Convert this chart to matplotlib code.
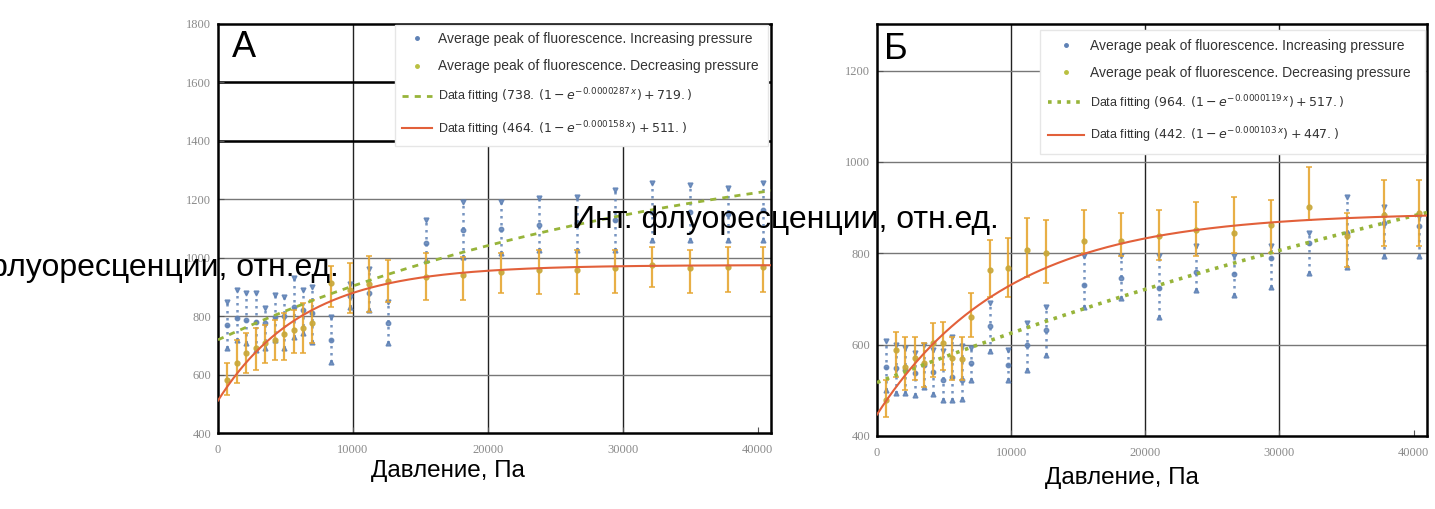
import numpy as np
import matplotlib
matplotlib.use("Agg")
import matplotlib.pyplot as plt
from matplotlib.lines import Line2D

# ---------------- data ----------------
pressure = [700, 1400, 2100, 2800, 3500, 4200, 4900, 5600, 6300, 7000, 8400, 9800,
            11200, 12600, 15400, 18200, 21000, 23800, 26600, 29400, 32200, 35000, 37800, 40400]

# Panel A (left)
a_inc_mean = [770, 793, 787, 781, 775, 798, 800, 833, 821, 810, 718, 870,
              880, 775, 1050, 1095, 1100, 1112, 1120, 1130, 1158, 1155, 1150, 1165]
a_inc_hi = [850, 890, 878, 878, 827, 872, 867, 930, 890, 901, 798, 910,
            960, 850, 1129, 1190, 1190, 1205, 1209, 1232, 1255, 1249, 1238, 1255]
a_inc_lo = [690, 718, 707, 684, 690, 718, 690, 730, 741, 713, 644, 830,
            820, 707, 992, 1004, 1016, 1026, 1026, 1026, 1061, 1061, 1061, 1061]
a_dec_mean = [580, 638, 673, 690, 707, 718, 740, 753, 758, 775, 912, 890,
              910, 920, 935, 941, 952, 958, 958, 964, 975, 964, 969, 969]
a_dec_hi = [640, 718, 741, 758, 770, 787, 810, 821, 844, 855, 970, 981,
            1005, 992, 1016, 1003, 1016, 1026, 1026, 1026, 1038, 1026, 1038, 1038]
a_dec_lo = [530, 570, 604, 616, 638, 650, 650, 673, 673, 707, 833, 810,
            815, 850, 855, 855, 879, 875, 875, 880, 901, 879, 884, 884]

# Panel Б (right)
b_inc_mean = [552, 548, 545, 538, 555, 540, 523, 530, 523, 559, 640, 555,
              599, 632, 731, 745, 725, 758, 755, 790, 822, 845, 866, 860]
b_inc_hi = [607, 600, 592, 581, 599, 588, 585, 617, 596, 592, 691, 588,
            647, 683, 793, 793, 793, 815, 795, 815, 845, 924, 902, 880]
b_inc_lo = [501, 495, 494, 490, 508, 493, 479, 479, 482, 523, 585, 523,
            545, 577, 683, 702, 661, 720, 709, 727, 757, 771, 793, 793]
b_dec_mean = [479, 588, 552, 570, 559, 603, 603, 570, 568, 661, 764, 767,
              807, 800, 826, 826, 837, 851, 845, 862, 902, 837, 884, 888]
b_dec_hi = [523, 628, 617, 617, 603, 647, 650, 617, 617, 713, 829, 833,
            877, 873, 895, 888, 895, 913, 924, 917, 990, 888, 961, 961]
b_dec_lo = [442, 530, 501, 523, 508, 530, 545, 523, 523, 617, 705, 705,
            749, 734, 801, 793, 785, 793, 801, 801, 873, 771, 815, 815]

# fit parameters  A*(1-exp(-k x)) + C  (as written in the legends)
a_fit_inc = (738.0, 0.0000287, 719.0)
a_fit_dec = (464.0, 0.000158, 511.0)
b_fit_inc = (964.0, 0.0000119, 517.0)
b_fit_dec = (442.0, 0.000103, 447.0)

a_fit_inc_label = r"Data fitting $(738.\,(1-e^{-0.0000287\,x})+719.)$"
a_fit_dec_label = r"Data fitting $(464.\,(1-e^{-0.000158\,x})+511.)$"
b_fit_inc_label = r"Data fitting $(964.\,(1-e^{-0.0000119\,x})+517.)$"
b_fit_dec_label = r"Data fitting $(442.\,(1-e^{-0.000103\,x})+447.)$"
inc_label = "Average peak of fluorescence. Increasing pressure"
dec_label = "Average peak of fluorescence. Decreasing pressure"

x_ticks = [0, 10000, 20000, 30000, 40000]
a_yticks = [400, 600, 800, 1000, 1200, 1400, 1600, 1800]
b_yticks = [400, 600, 800, 1000, 1200]
ylabel = "Инт. флуоресценции, отн.ед."
xlabel = "Давление, Па"

# ---------------- style ----------------
BLUE = "#5E81B5"
ORANGE = "#E6A632"
GREEN = "#97B43A"
RED = "#E2603A"
TICKCOL = "#8a8a8a"

plt.rcParams["font.family"] = ["Liberation Sans", "DejaVu Sans"]
plt.rcParams["mathtext.fontset"] = "dejavusans"

fig = plt.figure(figsize=(14.35, 5.09), dpi=100)
fig.patch.set_facecolor("white")

W, H = 1435.0, 509.0
def ax_rect(l, r, t, b):
    return [l / W, 1 - b / H, (r - l) / W, (b - t) / H]

axA = fig.add_axes(ax_rect(218, 771, 24, 433))
axB = fig.add_axes(ax_rect(877, 1427, 24, 436))


def model(p, x):
    A, k, C = p
    return A * (1 - np.exp(-k * x)) + C


def draw_panel(ax, inc_m, inc_lo, inc_hi, dec_m, dec_lo, dec_hi, fit_inc, fit_dec,
               ylim, yticks, green_ls, green_lw):
    x = np.asarray(pressure, float)
    im, ilo, ihi = map(np.asarray, (inc_m, inc_lo, inc_hi))
    dm, dlo, dhi = map(np.asarray, (dec_m, dec_lo, dec_hi))

    # increasing pressure: dotted error columns with triangle ends
    eb = ax.errorbar(x, im, yerr=[im - ilo, ihi - im], fmt="o", ms=3.2, color=BLUE,
                     ecolor=BLUE, elinewidth=1.8, capsize=0, zorder=3, alpha=0.85)
    eb[2][0].set_linestyle((0, (1, 1.8)))
    ax.plot(x, ihi, "v", ms=3.5, color=BLUE, zorder=3, alpha=0.85)
    ax.plot(x, ilo, "^", ms=3.5, color=BLUE, zorder=3, alpha=0.85)

    # decreasing pressure: solid error bars
    ax.errorbar(x, dm, yerr=[dm - dlo, dhi - dm], fmt="o", ms=3.5, color="#C9A83A",
                ecolor=ORANGE, elinewidth=1.6, capsize=2.5, capthick=1.2, zorder=4,
                alpha=0.9)

    xf = np.linspace(0, 41000, 400)
    ax.plot(xf, model(fit_inc, xf), color=GREEN, lw=green_lw, ls=green_ls, zorder=5)
    ax.plot(xf, model(fit_dec, xf), color=RED, lw=1.5, zorder=5)

    ax.set_xlim(0, 41000)
    ax.set_ylim(*ylim)
    ax.set_xticks(x_ticks)
    ax.set_xticklabels([str(t) for t in x_ticks])
    ax.set_yticks(yticks)
    ax.set_yticklabels([str(t) for t in yticks])
    for lab in ax.get_xticklabels() + ax.get_yticklabels():
        lab.set_fontfamily("Liberation Serif")
        lab.set_fontsize(9)
        lab.set_color(TICKCOL)
    ax.tick_params(direction="in", length=4, width=0.8, color="#555", pad=5)
    ax.tick_params(axis="x", pad=8)
    for s in ax.spines.values():
        s.set_linewidth(1.8)
        s.set_color("black")
    for t in x_ticks[1:-1]:
        ax.axvline(t, color="#222", lw=1.0, zorder=1)
    for t in yticks[1:]:
        if t < ylim[1]:
            ax.axhline(t, color="#777", lw=1.0, zorder=1)

    handles = [
        Line2D([], [], ls="none", marker="o", ms=2.5, color=BLUE),
        Line2D([], [], ls="none", marker="o", ms=2.5, color="#B9C040"),
        Line2D([], [], color=GREEN, lw=green_lw, ls=green_ls),
        Line2D([], [], color=RED, lw=1.5),
    ]
    return handles


hA = draw_panel(axA, a_inc_mean, a_inc_lo, a_inc_hi, a_dec_mean, a_dec_lo, a_dec_hi,
                a_fit_inc, a_fit_dec, (400, 1800), a_yticks, (0, (2.2, 2.2)), 2.0)
# darker horizontal lines in the upper part of panel A
for t in (1400, 1600):
    axA.axhline(t, color="black", lw=1.8, zorder=1.5)

hB = draw_panel(axB, b_inc_mean, b_inc_lo, b_inc_hi, b_dec_mean, b_dec_lo, b_dec_hi,
                b_fit_inc, b_fit_dec, (400, 1302), b_yticks, (0, (1, 1.6)), 2.6)

LEGTXT = "#333333"
legA = axA.legend(hA, [inc_label, dec_label, a_fit_inc_label, a_fit_dec_label],
                  loc="upper left", bbox_to_anchor=(0.32, 0.0, 0.675, 0.997), mode="expand",
                  borderaxespad=0, fontsize=10, labelspacing=0.95, handlelength=2.2,
                  handletextpad=0.4, frameon=True, fancybox=False, framealpha=1,
                  edgecolor="#e6e6e6", borderpad=0.5, labelcolor=LEGTXT)
legA.set_zorder(10)
legB = axB.legend(hB, [inc_label, dec_label, b_fit_inc_label, b_fit_dec_label],
                  loc="upper left", bbox_to_anchor=(0.296, 0.0, 0.70, 0.985), mode="expand",
                  borderaxespad=0, fontsize=10, labelspacing=0.95, handlelength=2.6,
                  handletextpad=0.4, frameon=True, fancybox=False, framealpha=1,
                  edgecolor="#e6e6e6", borderpad=0.6, labelcolor=LEGTXT)
legB.set_zorder(10)
for leg in (legA, legB):
    for t in leg.get_texts()[2:]:
        t.set_fontsize(9)

# panel letters
axA.text(0.026, 0.985, "А", transform=axA.transAxes, fontsize=26, va="top", ha="left", zorder=11)
axB.text(0.012, 0.98, "Б", transform=axB.transAxes, fontsize=26, va="top", ha="left", zorder=11)

# axis labels (horizontal, as in the reference)
fig.text(125 / W, 1 - 268 / H, ylabel, fontsize=23, ha="center", va="center", zorder=20)
fig.text(785 / W, 1 - 220 / H, ylabel, fontsize=23, ha="center", va="center", zorder=20)
fig.text(448 / W, 1 - 471 / H, xlabel, fontsize=17.5, ha="center", va="center")
fig.text(1122 / W, 1 - 478 / H, xlabel, fontsize=17.5, ha="center", va="center")

fig.savefig("out.png", dpi=100, facecolor="white")
